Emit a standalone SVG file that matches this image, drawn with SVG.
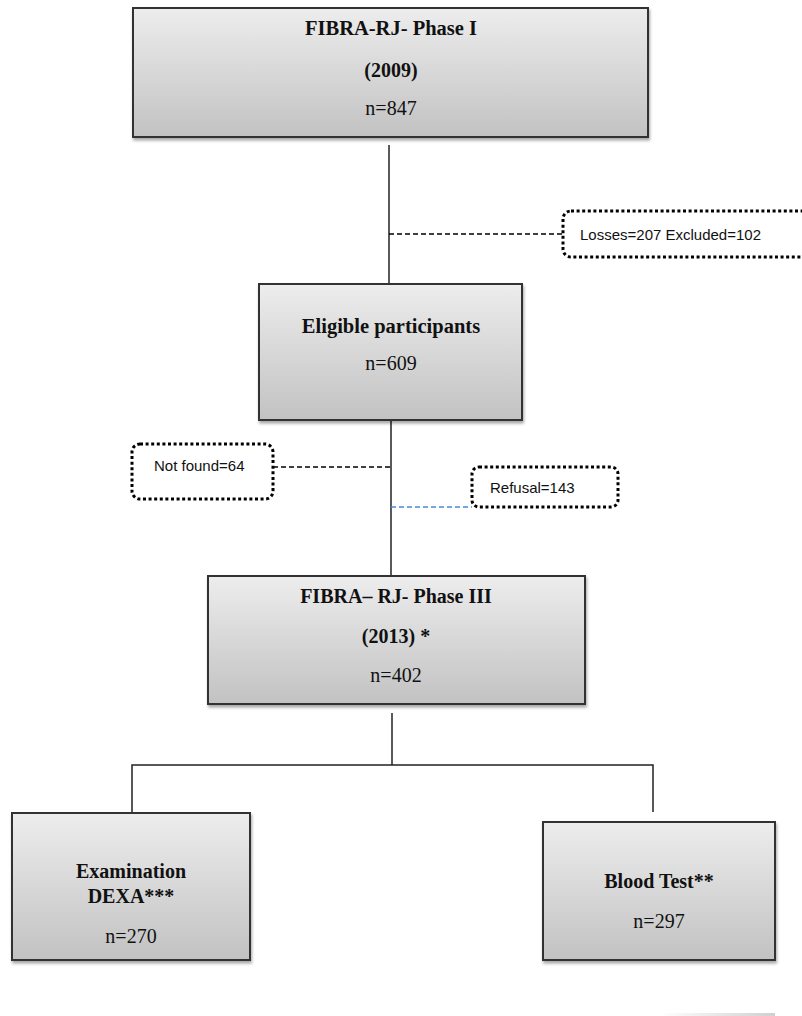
<svg xmlns="http://www.w3.org/2000/svg" width="802" height="1016" viewBox="0 0 802 1016">
<defs>
<linearGradient id="g" x1="0" y1="0" x2="0" y2="1">
<stop offset="0" stop-color="#ededed"/>
<stop offset="1" stop-color="#c2c2c2"/>
</linearGradient>
<linearGradient id="gf" x1="0" y1="0" x2="1" y2="0">
<stop offset="0" stop-color="#ffffff"/>
<stop offset="1" stop-color="#d0d0d0"/>
</linearGradient>
<filter id="sh" x="-5%" y="-5%" width="110%" height="115%">
<feDropShadow dx="1" dy="2.5" stdDeviation="1.5" flood-color="#000" flood-opacity="0.35"/>
</filter>
</defs>
<style>
.box{fill:url(#g);stroke:#333;stroke-width:2;filter:url(#sh)}
.dot{fill:#fff;stroke:#000;stroke-width:3;stroke-dasharray:3 2.6}
.t{font-family:"Liberation Serif","Times New Roman",serif;font-size:20px;fill:#111;text-anchor:middle}
.b{font-weight:bold}
.s{font-family:"Liberation Sans",Arial,sans-serif;font-size:15px;fill:#111}
.ln{stroke:#222;stroke-width:1.5;fill:none}
.dash{stroke:#000;stroke-width:1.4;stroke-dasharray:5 3;fill:none}
.blue{stroke:#4a86e0;stroke-width:1.4;stroke-dasharray:5 3;fill:none}
</style>
<rect width="802" height="1016" fill="#fff"/>
<g id="connectors">
<line class="ln" x1="389" y1="145" x2="389" y2="283"/>
<line class="dash" x1="389" y1="234" x2="563" y2="234"/>
<line class="ln" x1="391" y1="420" x2="391" y2="577"/>
<line class="dash" x1="273" y1="467" x2="391" y2="467"/>
<line class="blue" x1="391" y1="507" x2="472" y2="507"/>
<line class="ln" x1="392" y1="713" x2="392" y2="765"/>
<polyline class="ln" points="132,813 132,765 653,765 653,812"/>
</g>
<g id="phase1">
<rect class="box" x="133" y="8" width="515" height="129"/>
<text class="t b" x="391" y="35" style="font-size:20.5px">FIBRA-RJ- Phase I</text>
<text class="t b" x="391" y="77">(2009)</text>
<text class="t" x="391" y="115">n=847</text>
</g>
<g id="losses">
<rect class="dot" x="563" y="211" width="260" height="46" rx="8"/>
<text class="s" x="580" y="240">Losses=207 Excluded=102</text>
</g>
<g id="eligible">
<rect class="box" x="259" y="284" width="263" height="136"/>
<text class="t b" x="391" y="333" style="font-size:20.5px">Eligible participants</text>
<text class="t" x="391" y="370">n=609</text>
</g>
<g id="notfound">
<rect class="dot" x="132" y="444" width="141" height="55" rx="8"/>
<text class="s" x="154" y="471">Not found=64</text>
</g>
<g id="refusal">
<rect class="dot" x="472" y="467" width="146" height="40" rx="7"/>
<text class="s" x="490" y="493">Refusal=143</text>
</g>
<g id="phase3">
<rect class="box" x="208" y="576" width="377" height="128"/>
<text class="t b" x="396" y="603">FIBRA– RJ- Phase III</text>
<text class="t b" x="396" y="643">(2013) *</text>
<text class="t" x="396" y="682">n=402</text>
</g>
<g id="dexa">
<rect class="box" x="12" y="813" width="238" height="147"/>
<text class="t b" x="131" y="878">Examination</text>
<text class="t b" x="131" y="903">DEXA***</text>
<text class="t" x="131" y="943">n=270</text>
</g>
<g id="blood">
<rect class="box" x="543" y="822" width="232" height="138"/>
<text class="t b" x="659" y="888">Blood Test**</text>
<text class="t" x="659" y="928">n=297</text>
</g>
<rect x="660" y="1013" width="115" height="3" fill="url(#gf)"/>
</svg>
